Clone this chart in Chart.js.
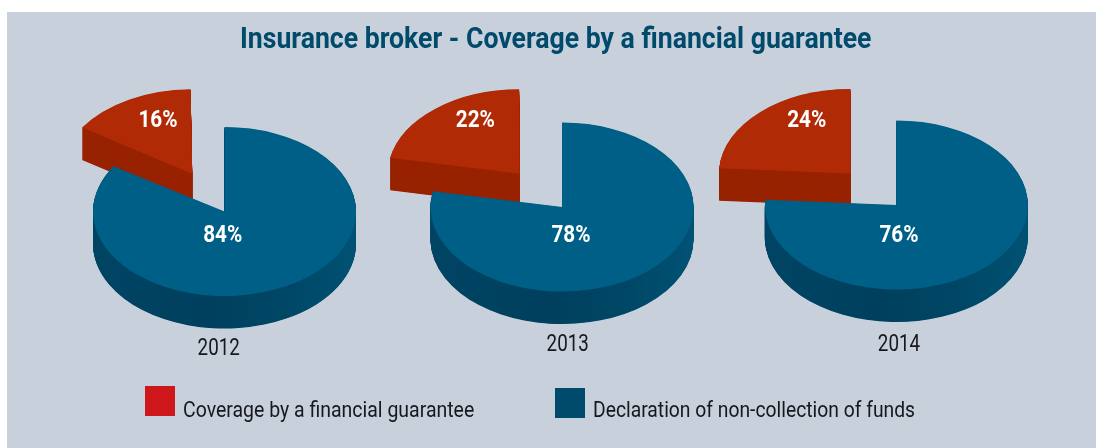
<!DOCTYPE html>
<html><head><meta charset="utf-8">
<script src="https://cdn.jsdelivr.net/npm/chart.js@4"></script>
<style>
html,body{margin:0;padding:0;background:#fff;width:1096px;height:448px;overflow:hidden}
#panel{position:absolute;left:7px;top:12px;width:1089px;height:436px;background:#c8d0dc}
canvas{position:absolute;left:0;top:0}
.t{position:absolute;white-space:nowrap;font-family:Roboto,"Liberation Sans",sans-serif;transform-origin:0 50%}
#title{left:240px;top:20px;font-size:30px;line-height:36px;font-weight:700;color:#004a6b;transform:scaleX(.888)}
.leg{font-size:22px;line-height:24px;color:#16181c;top:398px}
.sw{position:absolute;width:30px;height:30px}
</style></head><body>
<div id="panel"></div>
<canvas id="c0" width="1096" height="448"></canvas>
<canvas id="c1" width="1096" height="448"></canvas>
<canvas id="c2" width="1096" height="448"></canvas>
<div class="t" id="title">Insurance broker - Coverage by a financial guarantee</div>
<div class="sw" style="left:145px;top:386px;background:#ce171b"></div>
<div class="t leg" style="left:183px;transform:scaleX(.885)">Coverage by a financial guarantee</div>
<div class="sw" style="left:555px;top:388px;background:#004a6b"></div>
<div class="t leg" style="left:593px;transform:scaleX(.877)">Declaration of non-collection of funds</div>
<script>
const years = ['2012','2013','2014'];
const seriesNames = ['Declaration of non-collection of funds','Coverage by a financial guarantee'];
const nonCollection = [84,78,76];
const guarantee = [16,22,24];

const centers = [[224.5,211.5],[562,207],[896.3,205]];
const guaranteeLabelPos = [[158,121],[475.3,121],[806.7,121]];
const nonCollectionLabelPos = [[222.7,236],[571,236],[899,236]];
const yearPos = [[218.7,349],[567.7,345],[899,345]];
const RADIUS = 131.5, SQUASH = 0.643, DEPTH = 32.5, EXPLODE = 268;
const FONT = 'Roboto,"Liberation Sans",sans-serif';

function label(ctx,text,x,y,sx){
  ctx.save();ctx.translate(x,y);ctx.scale(sx,1);ctx.fillText(text,0,0);ctx.restore();
}

function pie3d(i){
  return {
    id:'pie3d',
    beforeDatasetDraw(chart,args){
      const ctx = chart.ctx, arcs = chart.getDatasetMeta(0).data;
      const [cx,cy] = centers[i];
      const sideBlue = ctx.createLinearGradient(cx-RADIUS,0,cx+RADIUS,0);
      sideBlue.addColorStop(0,'#004463');sideBlue.addColorStop(0.45,'#00405e');sideBlue.addColorStop(0.75,'#004766');sideBlue.addColorStop(1,'#005274');
      const sides = [sideBlue,'#982300'];
      for (const idx of [1,0]) {
        const arc = arcs[idx];
        // Chart.js widens a sliced arc under a right angle; keep the slice's true radius.
        const grow = (arc.options.offset||0)/4*(1-Math.sin(Math.min(Math.PI,arc.circumference)));
        for (let d=DEPTH; d>=0; d-=0.5) {
          const ghost = Object.create(arc);
          ghost.outerRadius = arc.outerRadius-grow;
          ghost.options = Object.assign({},arc.options,{backgroundColor: d===0 ? arc.options.backgroundColor : sides[idx]});
          ctx.save();
          ctx.translate(cx,cy+d);ctx.scale(1,SQUASH);ctx.translate(-cx,-cy);
          arc.draw.call(ghost,ctx);
          ctx.restore();
        }
      }
      return false;
    },
    afterDatasetsDraw(chart){
      const ctx = chart.ctx;
      ctx.save();
      ctx.textAlign='center';ctx.textBaseline='middle';
      ctx.fillStyle='#fff';ctx.font='700 23px '+FONT;
      label(ctx,guarantee[i]+'%',guaranteeLabelPos[i][0],guaranteeLabelPos[i][1],.9);
      label(ctx,nonCollection[i]+'%',nonCollectionLabelPos[i][0],nonCollectionLabelPos[i][1],.9);
      ctx.fillStyle='#16181c';ctx.font='400 23.5px '+FONT;
      label(ctx,years[i],yearPos[i][0],yearPos[i][1],.8);
      ctx.restore();
    }
  };
}

years.forEach((y,i)=>{
  const [cx,cy]=centers[i];
  const padX = Math.abs(1096-2*cx);
  new Chart(document.getElementById('c'+i),{
    type:'pie',
    data:{labels:seriesNames,datasets:[{
      data:[nonCollection[i],guarantee[i]],
      backgroundColor:['#005f87','#b12a06'],
      borderWidth:0,
      offset:[0,EXPLODE],
      radius:RADIUS,
      clip:false
    }]},
    options:{
      responsive:false,animation:false,
      events:[],
      layout:{padding:{left:cx>548?padX:0,right:cx<548?padX:0,top:0,bottom:448-2*cy}},
      plugins:{legend:{display:false},tooltip:{enabled:false}}
    },
    plugins:[pie3d(i)]
  });
});
</script>
</body></html>
